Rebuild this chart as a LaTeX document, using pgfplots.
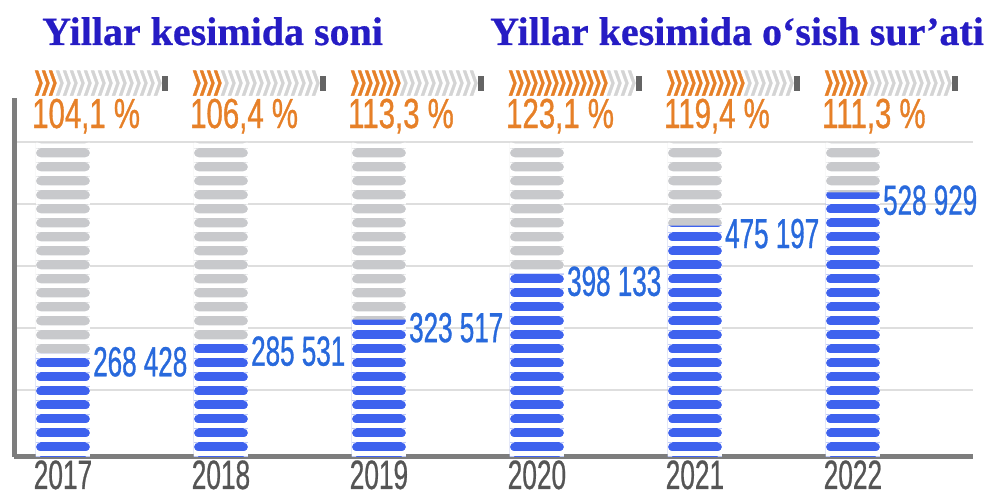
\documentclass[border=0pt]{standalone}
\usepackage{pgfplots}
\pgfplotsset{compat=1.18}
\usepackage{pgfplotstable}
\usepackage{fontspec}
\usetikzlibrary{patterns}
\setmainfont{Liberation Serif}
\newfontfamily\titlefont[FakeBold=0.6]{Liberation Serif Bold}
\newfontfamily\valfont[FakeStretch=0.62,FakeBold=0.8]{Liberation Sans}
\newfontfamily\pctfont[FakeStretch=0.7,FakeBold=0.8]{Liberation Sans}
\newfontfamily\yrfont[FakeStretch=0.64,FakeBold=0.6]{Liberation Sans}
\newfontfamily\chevfont[FakeStretch=0.55,FakeBold=1.6]{DejaVu Sans}

\definecolor{titleblue}{RGB}{38,28,196}
\definecolor{barblue}{RGB}{62,98,238}
\definecolor{valblue}{RGB}{40,105,220}
\definecolor{pctor}{RGB}{230,128,40}
\definecolor{pillgray}{RGB}{200,201,204}
\definecolor{chevgr}{RGB}{212,212,212}
\definecolor{blockgr}{RGB}{100,100,100}
\definecolor{axisgray}{RGB}{125,125,125}
\definecolor{gridgray}{RGB}{222,222,222}
\definecolor{yeargray}{RGB}{85,85,85}

\pgfdeclarepatternformonly{pills}{\pgfpoint{0pt}{0pt}}{\pgfpoint{157.99pt}{14.2pt}}{\pgfpoint{157.99pt}{14.2pt}}{%
  \pgfpathrectangle{\pgfpointorigin}{\pgfpoint{157.99pt}{5pt}}%
  \pgfpathmoveto{\pgfpoint{35.4pt}{4.9pt}}%
  \pgfpathlineto{\pgfpoint{40.58pt}{4.9pt}}%
  \pgfpatharc{270}{90}{4.65pt}%
  \pgfpathlineto{\pgfpoint{35.4pt}{14.3pt}}%
  \pgfpathclose
  \pgfpathmoveto{\pgfpoint{90.5pt}{4.9pt}}%
  \pgfpathlineto{\pgfpoint{85.38pt}{4.9pt}}%
  \pgfpatharc{270}{450}{4.65pt}%
  \pgfpathlineto{\pgfpoint{90.5pt}{14.3pt}}%
  \pgfpathclose
  \pgfusepath{fill}}

\newcount\chevi
\newcommand\chevrow[1]{%
  \chevi=0
  \loop\ifnum\chevi<18
    \hbox to 7pt{\hss\ifnum\chevi<#1\relax\color{pctor}\else\color{chevgr}\fi\chevfont\fontsize{25}{25}\selectfont ❯\hss}%
    \advance\chevi by 1
  \repeat
  \hspace{1pt}{\color{blockgr}\rule[-1pt]{6pt}{15pt}}}

\pgfplotstableread[col sep=semicolon]{
x;full;val;lab;pcty;pct;chevy;n
0;609000;268428;268 428;632600;104,1 \%;705000;3
1;609000;285531;285 531;632600;106,4 \%;705000;4
2;609000;323517;323 517;632600;113,3 \%;705000;7
3;609000;398133;398 133;632600;123,1 \%;705000;14
4;609000;475197;475 197;632600;119,4 \%;705000;11
5;609000;528929;528 929;632600;111,3 \%;705000;6
}\chartdata

\begin{document}
\begin{tikzpicture}
\begin{axis}[
  at={(0pt,0pt)}, anchor=south west, scale only axis,
  width=959pt, height=389pt,
  xmin=-0.31, xmax=5.76, ymin=102000, ymax=729400,
  axis x line*=bottom, axis y line*=left,
  axis line style={line width=5pt, draw=axisgray, -},
  y axis line style={shorten >=30pt},
  xtick={0,1,2,3,4,5},
  xticklabels={2017,2018,2019,2020,2021,2022},
  ytick={210000,310000,410000,510000,610000},
  yticklabels={}, scaled y ticks=false,
  major tick length=0pt,
  ymajorgrids, grid style={line width=1.5pt, draw=gridgray},
  xticklabel style={font=\yrfont\fontsize{41}{41}\selectfont, text=yeargray, anchor=base, yshift=-32pt, inner sep=0pt},
  clip mode=individual,
]
\addplot[ybar, bar width=54pt, bar shift=0pt, fill=pillgray, draw=none,
  postaction={pattern=pills, pattern color=white}]
  table[x=x, y=full]{\chartdata};
\addplot[ybar, bar width=54pt, bar shift=0pt, fill=barblue, draw=none,
  postaction={pattern=pills, pattern color=white}]
  table[x=x, y=val]{\chartdata};
\addplot[only marks, mark=none, nodes near coords, point meta=explicit symbolic,
  nodes near coords style={font=\valfont\fontsize{42}{42}\selectfont, text=valblue, anchor=west, xshift=30pt, yshift=-8pt, inner sep=0pt}]
  table[x=x, y=val, meta=lab]{\chartdata};
\addplot[only marks, mark=none, nodes near coords, point meta=explicit symbolic,
  nodes near coords style={font=\pctfont\fontsize{42}{42}\selectfont, text=pctor, anchor=base west, xshift=-31pt, inner sep=0pt}]
  table[x=x, y=pcty, meta=pct]{\chartdata};
\addplot[only marks, mark=none, nodes near coords={\chevrow{\pgfplotspointmeta}}, point meta=explicit symbolic,
  nodes near coords style={anchor=west, xshift=-28pt, inner sep=0pt}]
  table[x=x, y=chevy, meta=n]{\chartdata};
\end{axis}
\node[anchor=base west, inner sep=0pt, font=\titlefont\fontsize{40}{40}\selectfont, text=titleblue] at (28pt,412pt) {Yillar kesimida soni};
\node[anchor=base west, inner sep=0pt, font=\titlefont\fontsize{40}{40}\selectfont, text=titleblue] at (476pt,412pt) {Yillar kesimida o‘sish sur’ati};
\pgfresetboundingbox
\path (-14pt,-41pt) rectangle (975pt,457pt);
\end{tikzpicture}
\end{document}
